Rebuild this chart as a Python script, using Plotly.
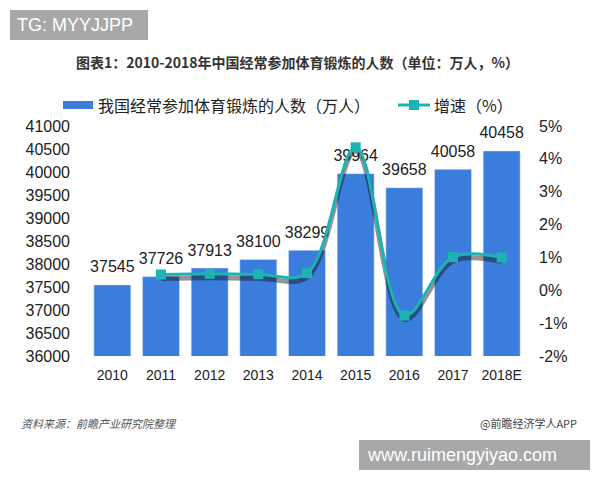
import plotly.graph_objects as go

years = ["2010", "2011", "2012", "2013", "2014", "2015", "2016", "2017", "2018E"]
people = [37545, 37726, 37913, 38100, 38299, 39964, 39658, 40058, 40458]
growth_years = ["2011", "2012", "2013", "2014", "2015", "2016", "2017", "2018E"]
growth = [0.48, 0.50, 0.49, 0.52, 4.35, -0.77, 1.01, 1.00]
left_ticks = list(range(36000, 41001, 500))
right_ticks = [-2, -1, 0, 1, 2, 3, 4, 5]

BLUE = "#3B7DDD"
TEAL = "#1DB3B3"
NUM_FONT = "Liberation Sans, Arial, sans-serif"
CJK = "Noto Sans CJK SC, sans-serif"

L, R, T, B = 88, 526, 126, 356
W, H = R - L, B - T


def fx(x):
    return (x - L) / W


def fy(y):
    return (B - y) / H


fig = go.Figure()
fig.add_trace(go.Bar(
    x=years, y=people, name="我国经常参加体育锻炼的人数（万人）",
    marker=dict(color=BLUE), showlegend=False,
))
# bar value labels (invisible markers give the text its offset above the bar)
fig.add_trace(go.Scatter(
    x=years, y=people, mode="markers+text", text=[str(v) for v in people],
    textposition="top center", marker=dict(size=12, opacity=0),
    textfont=dict(family=NUM_FONT, size=16, color="#222"),
    cliponaxis=False, showlegend=False, hoverinfo="skip",
))
# shadow of the growth line
fig.add_trace(go.Scatter(
    x=growth_years, y=[g - 0.12 for g in growth], yaxis="y2", mode="lines",
    line=dict(color="rgba(20,20,20,0.45)", width=5, shape="spline", smoothing=1.0),
    showlegend=False, hoverinfo="skip",
))
fig.add_trace(go.Scatter(
    x=growth_years, y=growth, yaxis="y2", name="增速（%）", mode="lines+markers",
    line=dict(color=TEAL, width=3, shape="spline", smoothing=1.0),
    marker=dict(symbol="square", size=10, color=TEAL), showlegend=False,
))

shapes = [
    # watermark boxes
    dict(type="rect", xref="paper", yref="paper", x0=fx(10), x1=fx(148), y0=fy(40), y1=fy(10),
         fillcolor="#A8A8A8", line=dict(width=0), layer="above"),
    dict(type="rect", xref="paper", yref="paper", x0=fx(359), x1=fx(590), y0=fy(470), y1=fy(440),
         fillcolor="#A8A8A8", line=dict(width=0), layer="above"),
    # legend symbols
    dict(type="rect", xref="paper", yref="paper", x0=fx(63), x1=fx(93), y0=fy(109), y1=fy(101),
         fillcolor=BLUE, line=dict(width=0)),
    dict(type="line", xref="paper", yref="paper", x0=fx(398), x1=fx(430), y0=fy(105), y1=fy(105),
         line=dict(color=TEAL, width=3)),
    dict(type="rect", xref="paper", yref="paper", x0=fx(409), x1=fx(419), y0=fy(110), y1=fy(100),
         fillcolor=TEAL, line=dict(width=0)),
]

annotations = [
    dict(text="TG: MYYJJPP", xref="paper", yref="paper", x=fx(15), y=fy(25),
         xanchor="left", yanchor="middle", showarrow=False,
         font=dict(family=NUM_FONT, size=18, color="white")),
    dict(text="www.ruimengyiyao.com", xref="paper", yref="paper", x=fx(365), y=fy(455),
         xanchor="left", yanchor="middle", showarrow=False,
         font=dict(family=NUM_FONT, size=18, color="white")),
    dict(text="<i>资料来源：前瞻产业研究院整理</i>", xref="paper", yref="paper", x=fx(19),
         y=fy(423), xanchor="left", yanchor="middle", showarrow=False,
         font=dict(family=CJK, size=11, color="#555")),
    dict(text="@前瞻经济学人APP", xref="paper", yref="paper", x=fx(579),
         y=fy(423), xanchor="right", yanchor="middle", showarrow=False,
         font=dict(family=CJK, size=11, color="#444")),
    dict(text="<b>图表1：2010-2018年中国经常参加体育锻炼的人数（单位：万人，%）</b>",
         xref="paper", yref="paper", x=fx(297), y=fy(62), xanchor="center", yanchor="middle",
         showarrow=False, font=dict(family=CJK, size=14, color="#333")),
    dict(text="我国经常参加体育锻炼的人数（万人）", xref="paper", yref="paper", x=fx(96),
         y=fy(105), xanchor="left", yanchor="middle", showarrow=False,
         font=dict(family=CJK, size=16, color="#222")),
    dict(text="增速（%）", xref="paper", yref="paper", x=fx(432),
         y=fy(105), xanchor="left", yanchor="middle", showarrow=False,
         font=dict(family=CJK, size=16, color="#222")),
]

fig.update_layout(
    width=600, height=480,
    margin=dict(l=L, r=600 - R, t=T, b=480 - B),
    paper_bgcolor="white", plot_bgcolor="white",
    bargap=0.24, showlegend=False,
    font=dict(family=NUM_FONT, size=14, color="#222"),
    xaxis=dict(type="category", range=[-0.5, len(years) - 0.5], showgrid=False, showline=False,
               ticks="", ticklabelstandoff=9, tickfont=dict(size=14, family=NUM_FONT)),
    yaxis=dict(range=[36000, 41000], tickvals=left_ticks, ticktext=[str(v) for v in left_ticks],
               showgrid=False, zeroline=False, showline=False, ticks="",
               ticklabelstandoff=17, tickfont=dict(size=16, family=NUM_FONT)),
    yaxis2=dict(range=[-2, 5], tickvals=right_ticks, ticktext=[f"{v}%" for v in right_ticks],
                overlaying="y", side="right", showgrid=False, zeroline=False, showline=False,
                ticks="", ticklabelstandoff=12, tickfont=dict(size=16, family=NUM_FONT)),
    shapes=shapes,
    annotations=annotations,
)

fig.write_html("out.html", config={"displayModeBar": False},
               post_script="document.body.style.margin='0';")
